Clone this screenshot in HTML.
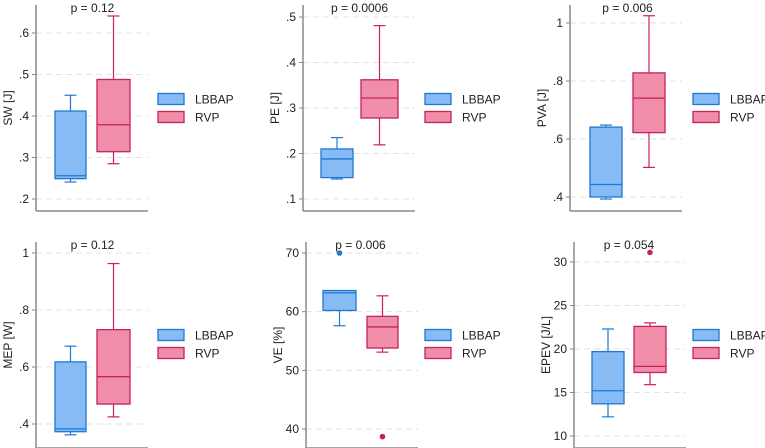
<!DOCTYPE html>
<html><head><meta charset="utf-8"><style>
html,body{margin:0;padding:0;background:#fff;}
svg{display:block;font-family:"Liberation Sans",Arial,sans-serif;}
</style></head><body>
<svg id="chart" width="765" height="448" viewBox="0 0 765 448" xmlns="http://www.w3.org/2000/svg"></svg>
<script>
// data: [max whisker, q3, median, q1, min whisker] per group
const groups = ["LBBAP","RVP"];
const swLBBAP = [0.45,0.412,0.256,0.249,0.241];
const swRVP = [0.641,0.488,0.379,0.314,0.285];
const peLBBAP = [0.235,0.21,0.188,0.147,0.144];
const peRVP = [0.481,0.362,0.322,0.278,0.219];
const pvaLBBAP = [0.648,0.641,0.443,0.40,0.393];
const pvaRVP = [1.025,0.828,0.741,0.622,0.502];
const mepLBBAP = [0.673,0.618,0.383,0.373,0.362];
const mepRVP = [0.963,0.731,0.566,0.47,0.425];
const veLBBAP = [63.6,63.6,63.2,60.2,57.6];
const veRVP = [62.7,59.2,57.4,53.8,53.1];
const epevLBBAP = [22.3,19.7,15.2,13.7,12.2];
const epevRVP = [23.0,22.6,18.0,17.3,15.9];
const veOutLBBAP = [70];
const veOutRVP = [38.7];
const epevOutLBBAP = [];
const epevOutRVP = [31.1];
const swTicks = [0.2,0.3,0.4,0.5,0.6];
const peTicks = [0.1,0.2,0.3,0.4,0.5];
const pvaTicks = [0.4,0.6,0.8,1.0];
const mepTicks = [0.4,0.6,0.8,1.0];
const veTicks = [40,50,60,70];
const epevTicks = [10,15,20,25,30];
const pValues = ["p = 0.12","p = 0.0006","p = 0.006","p = 0.12","p = 0.006","p = 0.054"];
const titles = ["SW [J]","PE [J]","PVA [J]","MEP [W]","VE [%]","EPEV [J/L]"];

const panels = [
 {ax:36, top:5, bottom:211, v0:0.2,y0:199,v1:0.6,y1:33, d:[swLBBAP,swRVP], out:[[],[]], ticks:swTicks, fmt:dec, b:[[55,86],[97,130]], py:12, lx:158, ly:99},
 {ax:303, top:5, bottom:211, v0:0.1,y0:199,v1:0.5,y1:17, d:[peLBBAP,peRVP], out:[[],[]], ticks:peTicks, fmt:dec, b:[[321,353],[361,398]], py:12, lx:425, ly:99},
 {ax:570, top:5, bottom:211, v0:0.4,y0:197,v1:1.0,y1:23, d:[pvaLBBAP,pvaRVP], out:[[],[]], ticks:pvaTicks, fmt:dec, b:[[590,622],[633,665]], py:12, lx:693, ly:99},
 {ax:36, top:242, bottom:448, v0:0.4,y0:424,v1:1.0,y1:253, d:[mepLBBAP,mepRVP], out:[[],[]], ticks:mepTicks, fmt:dec, b:[[55,86],[97,130]], py:249, lx:158, ly:335},
 {ax:306, top:242, bottom:448, v0:40,y0:429,v1:70,y1:253, d:[veLBBAP,veRVP], out:[veOutLBBAP,veOutRVP], ticks:veTicks, fmt:String, b:[[323,356],[367,398]], py:249, lx:425, ly:335},
 {ax:574, top:242, bottom:448, v0:10,y0:436,v1:30,y1:262, d:[epevLBBAP,epevRVP], out:[epevOutLBBAP,epevOutRVP], ticks:epevTicks, fmt:String, b:[[592,624],[634,666]], py:249, lx:693, ly:335}
];
function dec(v){ if(v===1) return "1"; return ("."+Math.round(v*10)); }
const fills=["#86bbf6","#f08ea9"], strokes=["#1f78d1","#c8215d"];
const svg=document.getElementById('chart');
const NS="http://www.w3.org/2000/svg";
function mk(tag,attrs,parent){const e=document.createElementNS(NS,tag);for(const k in attrs)e.setAttribute(k,attrs[k]);(parent||svg).appendChild(e);return e;}
panels.forEach((p,i)=>{
  const g=mk('g',{});
  
  
  const y=v=>p.y0+(v-p.v0)*(p.y1-p.y0)/(p.v1-p.v0);
  const right=p.ax+112;
  p.ticks.forEach(t=>{
    const ty=y(t);
    const gl=mk('line',{x1:p.ax,x2:right,y1:ty,y2:ty,stroke:'#e3e3e3','stroke-width':1,'stroke-dasharray':'6,4'},g);
    
    
    mk('line',{x1:p.ax-4,x2:p.ax,y1:ty,y2:ty,stroke:'#888','stroke-width':1},g);
    const tl=mk('text',{x:p.ax-7,y:ty+4,'text-anchor':'end','font-size':12,fill:'#222'},g);
    tl.textContent=p.fmt(t);
    
    
  });
  const ya=mk('line',{x1:p.ax,x2:p.ax,y1:p.top,y2:p.bottom,stroke:'#8a8a8a','stroke-width':1.5},g);
  
  
  const xa=mk('line',{x1:p.ax,x2:right,y1:p.bottom,y2:p.bottom,stroke:'#8a8a8a','stroke-width':1.5},g);
  
  
  const cy=(p.top+p.bottom)/2;
  const yt=mk('text',{x:0,y:0,'text-anchor':'middle','font-size':12,fill:'#222',transform:`translate(${p.ax-24},${cy}) rotate(-90)`},g);
  yt.textContent=titles[i];
  
  
  p.d.forEach((s,k)=>{
    const [x0,x1]=p.b[k], cx=(x0+x1)/2, wh=6;
    const st=strokes[k];
    const bg=mk('g',{},g);
    
    
    mk('line',{x1:cx,x2:cx,y1:y(s[0]),y2:y(s[1]),stroke:st,'stroke-width':1.2},bg);
    mk('line',{x1:cx,x2:cx,y1:y(s[3]),y2:y(s[4]),stroke:st,'stroke-width':1.2},bg);
    mk('line',{x1:cx-wh,x2:cx+wh,y1:y(s[0]),y2:y(s[0]),stroke:st,'stroke-width':1.2},bg);
    mk('line',{x1:cx-wh,x2:cx+wh,y1:y(s[4]),y2:y(s[4]),stroke:st,'stroke-width':1.2},bg);
    mk('rect',{x:x0,y:y(s[1]),width:x1-x0,height:y(s[3])-y(s[1]),fill:fills[k],stroke:st,'stroke-width':1.3},bg);
    mk('line',{x1:x0,x2:x1,y1:y(s[2]),y2:y(s[2]),stroke:st,'stroke-width':1.3},bg);
    p.out[k].forEach(v=>{
      const c=mk('circle',{cx:cx,cy:y(v),r:2.8,fill:st},g);
      
      
    });
  });
  const pt=mk('text',{x:(p.b[0][0]+p.b[1][1])/2,y:p.py,'text-anchor':'middle','font-size':12,fill:'#222'},g);
  pt.textContent=pValues[i];
  
  
  groups.forEach((gn,k)=>{
    const ly=p.ly+k*18;
    const lg=mk('g',{},g);
    
    
    mk('rect',{x:p.lx,y:ly-5.5,width:26,height:11,fill:fills[k],stroke:strokes[k],'stroke-width':1.3},lg);
    const t=mk('text',{x:p.lx+37,y:ly+4.5,'font-size':12,fill:'#222'},lg);
    t.textContent=gn;
  });
});
</script>
</body></html>
